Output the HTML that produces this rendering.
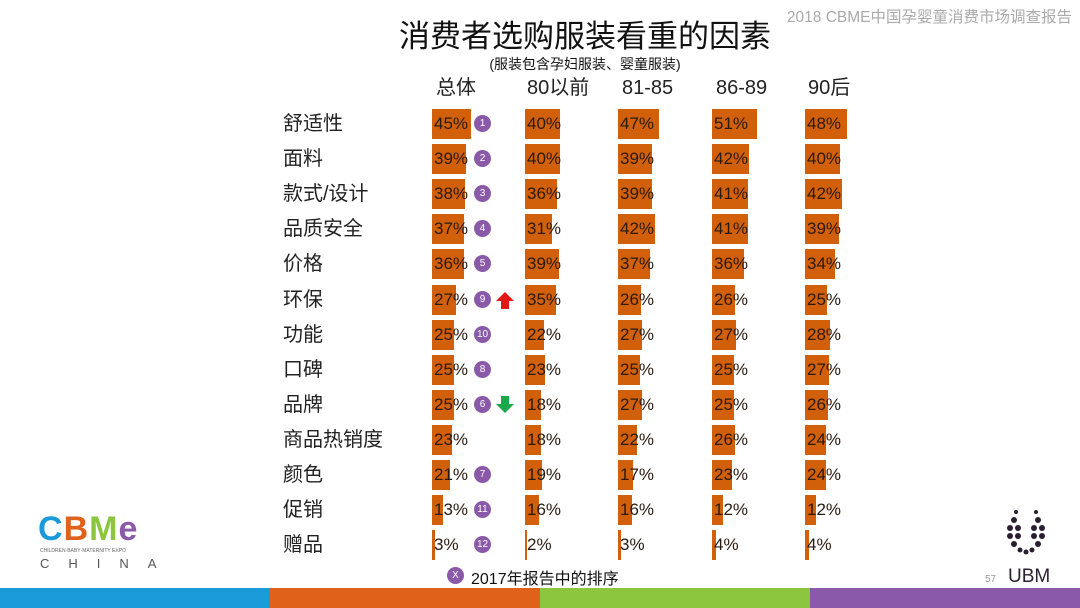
<!DOCTYPE html>
<html><head><meta charset="utf-8"><style>
body{margin:0;width:1080px;height:608px;position:relative;background:#fff;font-family:"Liberation Sans","Noto Sans CJK SC",sans-serif;overflow:hidden}
.a{position:absolute;white-space:nowrap}
.bar{position:absolute;background:#d2600a;height:30px}
.pct{position:absolute;font-size:17px;color:#2a1a10;line-height:30px}
.lab{position:absolute;font-size:20px;color:#222;line-height:30px;left:283px}
.bd{position:absolute;width:17px;height:17px;border-radius:50%;background:#8a5aa8;color:#fff;font-size:10px;line-height:17px;text-align:center}
.hd{position:absolute;top:76px;font-size:20px;line-height:24px;height:24px;color:#222}
</style></head><body>
<div class="a" style="right:8px;top:5px;font-size:15.5px;color:#aaa">2018 CBME中国孕婴童消费市场调查报告</div>
<div class="a" style="left:0;width:1170px;text-align:center;top:17px;font-size:31px;line-height:40px;color:#111">消费者选购服装看重的因素</div>
<div class="a" style="left:0;width:1170px;text-align:center;top:54px;font-size:14px;color:#111">(服装包含孕妇服装、婴童服装)</div>
<div class="hd" style="left:436px">总体</div>
<div class="hd" style="left:527px">80以前</div>
<div class="hd" style="left:622px">81-85</div>
<div class="hd" style="left:716px">86-89</div>
<div class="hd" style="left:808px">90后</div>
<div id="c"></div>
<svg class="a" style="left:495px;top:292px" width="20" height="18"><polygon points="10,0 19,9 14,9 14,17 6,17 6,9 1,9" fill="#e01818"/></svg>
<svg class="a" style="left:495px;top:396px" width="20" height="18"><polygon points="10,17 19,8 14,8 14,0 6,0 6,8 1,8" fill="#19a84a"/></svg>
<div class="bd" style="left:447px;top:567px">X</div>
<div class="a" style="left:471px;top:565px;font-size:16px;color:#111">2017年报告中的排序</div>
<div class="a" style="left:38px;top:510px;font-size:34px;font-weight:bold;letter-spacing:1px"><span style="color:#1a9ad8">C</span><span style="color:#e0621a">B</span><span style="color:#8cc63f">M</span><span style="color:#8a5aa8">e</span></div>
<div class="a" style="left:40px;top:548px;font-size:5px;color:#666">CHILDREN·BABY·MATERNITY EXPO</div>
<div class="a" style="left:40px;top:556px;font-size:13px;color:#555;letter-spacing:19px">CHINA</div>
<svg class="a" style="left:1002px;top:508px" width="56" height="50"><g fill="#2a1f2e">
<circle cx="14" cy="4" r="2"/><circle cx="34" cy="4" r="2"/><circle cx="12" cy="12" r="3"/><circle cx="36" cy="12" r="3"/><circle cx="8" cy="20" r="3"/><circle cx="16" cy="20" r="3"/><circle cx="32" cy="20" r="3"/><circle cx="40" cy="20" r="3"/><circle cx="8" cy="28" r="3"/><circle cx="16" cy="28" r="3"/><circle cx="32" cy="28" r="3"/><circle cx="40" cy="28" r="3"/><circle cx="12" cy="36" r="3"/><circle cx="36" cy="36" r="3"/><circle cx="18" cy="42" r="2.5"/><circle cx="30" cy="42" r="2.5"/><circle cx="24" cy="44" r="2.5"/></g></svg>
<div class="a" style="left:985px;top:574px;font-size:10px;color:#999">57</div>
<div class="a" style="left:1008px;top:566px;font-size:19px;color:#2a1f2e">UBM</div>
<div class="a" style="left:0;top:588px;width:270px;height:20px;background:#1a9ad8"></div>
<div class="a" style="left:270px;top:588px;width:270px;height:20px;background:#e0621a"></div>
<div class="a" style="left:540px;top:588px;width:270px;height:20px;background:#8cc63f"></div>
<div class="a" style="left:810px;top:588px;width:270px;height:20px;background:#8a5aa8"></div>
<script>
var L=["舒适性","面料","款式/设计","品质安全","价格","环保","功能","口碑","品牌","商品热销度","颜色","促销","赠品"];
var D=[[45,40,47,51,48],[39,40,39,42,40],[38,36,39,41,42],[37,31,42,41,39],[36,39,37,36,34],[27,35,26,26,25],[25,22,27,27,28],[25,23,25,25,27],[25,18,27,25,26],[23,18,22,26,24],[21,19,17,23,24],[13,16,16,12,12],[3,2,3,4,4]];
var B=[1,2,3,4,5,9,10,8,6,null,7,11,12];
var X=[432,525,618,712,805],h="";
for(var i=0;i<13;i++){var y=109+i*35.1;
h+='<div class="lab" style="top:'+y+'px">'+L[i]+'</div>';
for(var j=0;j<5;j++){var w=Math.max(2,D[i][j]*0.875);
h+='<div class="bar" style="left:'+X[j]+'px;top:'+y+'px;width:'+w+'px"></div><div class="pct" style="left:'+(X[j]+2)+'px;top:'+y+'px">'+D[i][j]+'%</div>';}
if(B[i])h+='<div class="bd" style="left:474px;top:'+(y+6)+'px">'+B[i]+'</div>';}
document.getElementById("c").innerHTML=h;
</script>
</body></html>
